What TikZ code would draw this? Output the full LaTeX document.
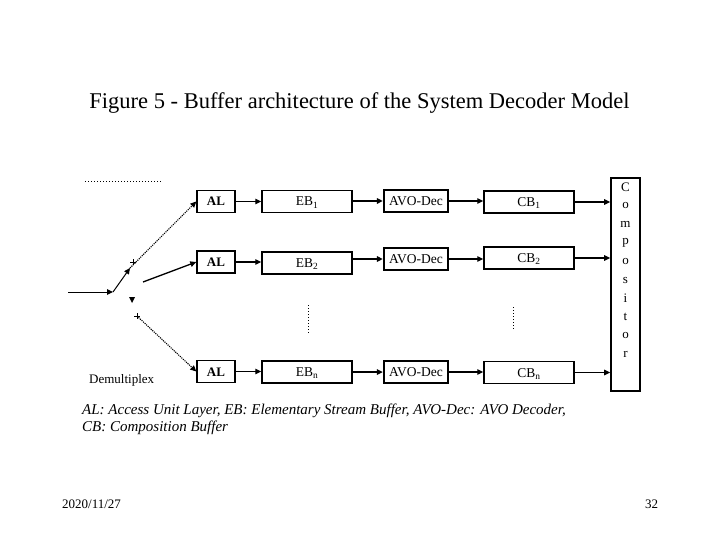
\documentclass[tikz,border=0pt]{standalone}
\usepackage{fontspec}
\setmainfont{Liberation Serif}
\usetikzlibrary{arrows.meta}
\begin{document}
\begin{tikzpicture}[x=1pt,y=-1pt,
  box/.style={draw,line width=1.4pt,minimum height=22pt,inner sep=0pt,text height=9pt,text depth=0pt,font=\fontsize{13.5}{15}\selectfont},
  avobox/.style={box,line width=2.3pt,font=\fontsize{13.5}{15}\selectfont},
  albox/.style={box,font=\bfseries\fontsize{13}{15}\selectfont},
  arr/.style={line width=1.3pt,-{Triangle[length=6pt,width=5.5pt]}},
  darr/.style={line width=1.1pt,densely dotted,-{Triangle[length=6pt,width=5.5pt]}},
  vdots/.style={line width=1pt,dotted},
  txt/.style={inner sep=0pt}]
\useasboundingbox (0,0) rectangle (720,540);
% title
\node[txt,font=\fontsize{22.5}{26}\selectfont] (title) at (359.5,103) {Figure 5 - Buffer architecture of the System Decoder Model};
% top dotted line
\coordinate (dl) at (85,182);
\coordinate (dr) at (162,182);
\draw[vdots] (dl) -- (dr);
% boxes row 1
\node[albox,minimum width=38pt] (al1) at (216,201.5) {AL};
\node[box,minimum width=90pt] (eb1) at (307,201.5) {EB\textsubscript{1}};
\node[avobox,minimum width=64pt] (avo1) at (416,201) {AVO-Dec};
\node[box,minimum width=90pt] (cb1) at (529,202) {CB\textsubscript{1}};
% row 2
\node[albox,minimum width=38pt] (al2) at (216,262) {AL};
\node[box,minimum width=90pt] (eb2) at (307,263) {EB\textsubscript{2}};
\node[avobox,minimum width=64pt] (avo2) at (416,259) {AVO-Dec};
\node[box,minimum width=90pt] (cb2) at (529,258) {CB\textsubscript{2}};
% row 3
\node[albox,minimum width=38pt] (al3) at (216,371.5) {AL};
\node[box,minimum width=90pt] (eb3) at (307,372) {EB\textsubscript{n}};
\node[avobox,minimum width=64pt] (avo3) at (416,372) {AVO-Dec};
\node[box,minimum width=90pt] (cb3) at (529,372.5) {CB\textsubscript{n}};
% compositor
\node[draw,line width=1.6pt,minimum width=29pt,minimum height=213pt,inner sep=0pt] (comp) at (625.5,284.5) {};
\foreach \l [count=\i from 0] in {C,o,m,p,o,s,i,t,o,r}{
  \node[txt,font=\fontsize{13}{15}\selectfont] (c\i) at (625.5,{187+\i*18.6}) {\l};
}
% horizontal arrows
\foreach \r in {1,2,3}{
  \draw[arr] (al\r.east) -- (al\r.east -| eb\r.west);
  \draw[arr] (eb\r.east |- avo\r.west) -- (avo\r.west);
  \draw[arr] (avo\r.east) -- (avo\r.east -| cb\r.west);
  \draw[arr] (cb\r.east) -- (cb\r.east -| comp.west);
}
% vertical dots
\coordinate (v1t) at (308,305);
\coordinate (v1b) at (308,333);
\coordinate (v2t) at (513,307);
\coordinate (v2b) at (513,330);
\draw[vdots] (v1t) -- (v1b);
\draw[vdots] (v2t) -- (v2b);
% demultiplexer switch
\coordinate (in) at (68,292);
\coordinate (sw) at (113,292);
\coordinate (swtop) at (130,268);
\coordinate (b2) at (143,282);
\coordinate (b3) at (137,316);
\coordinate (tri) at (132,300);
\draw[arr,line width=1pt] (in) -- (sw);
\draw[arr,line width=1pt] (sw) -- (swtop);
\draw[darr] (swtop) -- (al1.west);
\draw[arr] (b2) -- (al2.west);
\draw[darr] (b3) -- (al3.west);
\fill (tri) ++(-3,-3) -- ++(6,0) -- ++(-3,6) -- cycle;
\draw[line width=0.6pt] (133,259) -- (133,265) (130,262) -- (136,262);
\draw[line width=0.6pt] (137,313) -- (137,319) (134,316) -- (140,316);
\node[txt,anchor=west,font=\fontsize{13}{15}\selectfont] (demux) at (89,380) {Demultiplex};
% legend
\node[txt,anchor=west,font=\itshape\fontsize{15}{18}\selectfont] (leg1) at (82,411) {AL: Access Unit Layer, EB: Elementary Stream Buffer, AVO-Dec: AVO Decoder,};
\node[txt,anchor=west,font=\itshape\fontsize{15}{18}\selectfont] (leg2) at (82,428) {CB: Composition Buffer};
% footer
\node[txt,anchor=west,font=\fontsize{13}{15}\selectfont] (date) at (62,504) {2020/11/27};
\node[txt,anchor=west,font=\fontsize{13}{15}\selectfont] (page) at (645,504) {32};
\end{tikzpicture}
\end{document}
